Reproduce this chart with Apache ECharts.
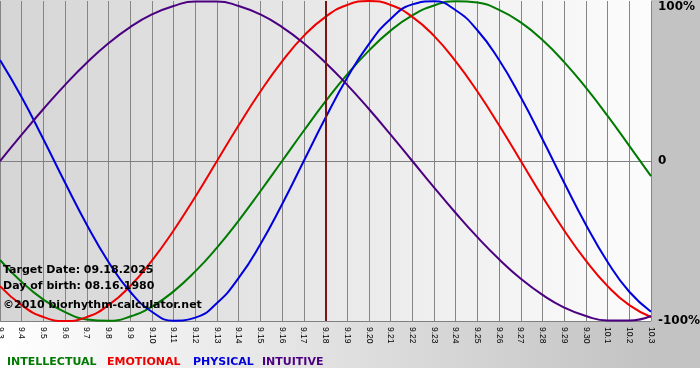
<!DOCTYPE html>
<html>
<head>
<meta charset="utf-8">
<script src="https://cdn.jsdelivr.net/npm/echarts@6/dist/echarts.min.js"></script>
<style>html,body{margin:0;padding:0;background:#fff}#c{width:700px;height:380px}</style>
</head>
<body>
<div id="c"></div>
<script>
var days = ['9.3','9.4','9.5','9.6','9.7','9.8','9.9','9.10','9.11','9.12','9.13','9.14','9.15','9.16','9.17','9.18','9.19','9.20','9.21','9.22','9.23','9.24','9.25','9.26','9.27','9.28','9.29','9.30','10.1','10.2','10.3'];
var intellectual = [-61.8,-75.6,-86.6,-94.5,-99.0,-99.9,-97.2,-91.0,-81.5,-69.0,-54.1,-37.2,-18.9,0,18.9,37.2,54.1,69.0,81.5,91.0,97.2,99.9,99.0,94.5,86.6,75.6,61.8,45.8,28.2,9.5,-9.5];
var emotional = [-78.2,-90.1,-97.5,-100,-97.5,-90.1,-78.2,-62.3,-43.4,-22.3,0,22.3,43.4,62.3,78.2,90.1,97.5,100,97.5,90.1,78.2,62.3,43.4,22.3,0,-22.3,-43.4,-62.3,-78.2,-90.1,-97.5];
var physical = [63.1,39.8,13.6,-13.6,-39.8,-63.1,-81.7,-94.2,-99.8,-97.9,-88.8,-73.1,-52.0,-27.0,0,27.0,52.0,73.1,88.8,97.9,99.8,94.2,81.7,63.1,39.8,13.6,-13.6,-39.8,-63.1,-81.7,-94.2];
var intuitive = [0,16.5,32.5,47.6,61.4,73.6,83.7,91.6,96.9,99.7,99.7,96.9,91.6,83.7,73.6,61.4,47.6,32.5,16.5,0,-16.5,-32.5,-47.6,-61.4,-73.6,-83.7,-91.6,-96.9,-99.7,-99.7,-96.9];
var targetDay = '9.18';
var yTicks = {'100':'100%','0':'0','-100':'-100%'};
var infoLines = ['Target Date: 09.18.2025','Day of birth: 08.16.1980','\u00a92010 biorhythm-calculator.net'];
var legendNames = ['INTELLECTUAL','EMOTIONAL','PHYSICAL','INTUITIVE'];

var colors = ['#007a00','#ee0000','#0000dd','#4b0082'];
var legendX = [7,107,193,262];
var infoY = [272,288,307];
var FONT = 'DejaVu Sans, Verdana, sans-serif';

var graphic = [
  {type:'rect', z:-10, shape:{x:0,y:0,width:651,height:321},
   style:{fill:new echarts.graphic.LinearGradient(0,0,1,0,[{offset:0,color:'#d5d5d5'},{offset:1,color:'#fcfcfc'}])}},
  {type:'rect', z:-10, shape:{x:651,y:0,width:49,height:368}, style:{fill:'#c3c3c3'}},
  {type:'rect', z:-10, shape:{x:0,y:321,width:651,height:47},
   style:{fill:new echarts.graphic.LinearGradient(0,0,1,0,[{offset:0,color:'#ffffff'},{offset:1,color:'#c3c3c3'}])}}
];
infoLines.forEach(function(t,i){
  graphic.push({type:'text', z:100, left:3, top:infoY[i]-7, style:{text:t, font:'bold 11px '+FONT, fill:'#000'}});
});
legendNames.forEach(function(t,i){
  graphic.push({type:'text', z:100, left:legendX[i], top:357, style:{text:t, font:'bold 11px '+FONT, fill:colors[i]}});
});

function mk(name, data, color, extra){
  var s = {name:name, type:'line', data:data, smooth:true, symbol:'none',
    lineStyle:{color:color, width:2}, itemStyle:{color:color}, z:3};
  if(extra) Object.assign(s, extra);
  return s;
}

var lblStyle = {fontSize:12, fontWeight:'bold', fontFamily:FONT, color:'#000'};
var chart = echarts.init(document.getElementById('c'), null, {renderer:'canvas'});
chart.setOption({
  animation:false,
  backgroundColor:'#ffffff',
  graphic: graphic,
  grid:{left:0,right:49,top:1,bottom:59,containLabel:false,outerBoundsMode:'none'},
  xAxis:{type:'category', data:days, boundaryGap:false,
    axisLine:{show:true, lineStyle:{color:'#808080',width:1}},
    axisTick:{show:true, length:3, lineStyle:{color:'#808080'}},
    splitLine:{show:true, lineStyle:{color:'#858585',width:1}},
    axisLabel:{interval:0, rotate:-90, fontSize:8.5, fontFamily:'Liberation Sans, Arial, sans-serif', color:'#000', margin:6}},
  yAxis:{type:'value', position:'right', min:-100, max:100, interval:100,
    axisLine:{show:false}, axisTick:{show:false},
    splitLine:{show:true, lineStyle:{color:['#808080','#808080','rgba(0,0,0,0)'],width:1}},
    axisLabel:{margin:7, fontSize:12, fontWeight:'bold', fontFamily:FONT, color:'#000',
      formatter:function(v){ return v === 100 ? '{top|' + yTicks[String(v)] + '}' : yTicks[String(v)]; },
      rich:{top:Object.assign({padding:[12,0,0,0]}, lblStyle)}}},
  series:[
    mk(legendNames[0], intellectual, colors[0]),
    mk(legendNames[1], emotional, colors[1]),
    mk(legendNames[2], physical, colors[2]),
    mk(legendNames[3], intuitive, colors[3], {
      markLine:{silent:true, symbol:'none', label:{show:false},
        lineStyle:{color:'#7a1515', width:2, type:'solid'},
        data:[{xAxis:targetDay}]}})
  ]
});
</script>
</body>
</html>
